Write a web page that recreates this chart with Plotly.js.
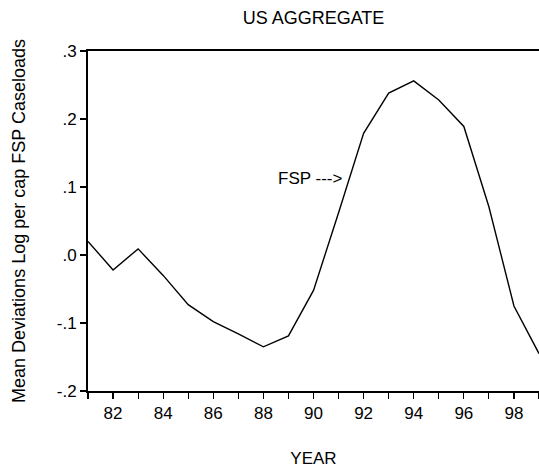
<!DOCTYPE html>
<html>
<head>
<meta charset="utf-8">
<script src="https://cdn.plot.ly/plotly-3.0.1.min.js"></script>
<style>html,body{margin:0;padding:0;background:#fff;}#chart{width:539px;height:474px;}</style>
</head>
<body>
<div id="chart"></div>
<script>
var years = [81, 82, 83, 84, 85, 86, 87, 88, 89, 90, 91, 92, 93, 94, 95, 96, 97, 98, 99];
var fsp = [0.020, -0.022, 0.009, -0.030, -0.073, -0.098, -0.116, -0.135, -0.119, -0.052, 0.062, 0.179, 0.238, 0.256, 0.228, 0.189, 0.071, -0.075, -0.145];
var xTickVals = [81, 82, 83, 84, 85, 86, 87, 88, 89, 90, 91, 92, 93, 94, 95, 96, 97, 98, 99];
var xTickText = ["", "82", "", "84", "", "86", "", "88", "", "90", "", "92", "", "94", "", "96", "", "98", ""];
var yTickVals = [-0.2, -0.1, 0.0, 0.1, 0.2, 0.3];
var yTickText = ["-.2", "-.1", ".0", ".1", ".2", ".3"];
var seriesLabel = "FSP --->";

var font = {family: "Liberation Sans, Arial, sans-serif", size: 17, color: "#000"};
var bigFont = {family: "Liberation Sans, Arial, sans-serif", size: 18, color: "#000"};

var trace = {
  x: years, y: fsp, type: "scatter", mode: "lines",
  line: {color: "#000", width: 1.4}, showlegend: false, hoverinfo: "none"
};

var layout = {
  width: 539, height: 474,
  margin: {l: 88, r: 0, t: 51, b: 83},
  paper_bgcolor: "#fff", plot_bgcolor: "#fff",
  font: font,
  title: {text: "US AGGREGATE", font: bigFont, xref: "paper", x: 0.5, xanchor: "center",
          yref: "container", y: 1 - 18/474, yanchor: "middle"},
  xaxis: {
    range: [81, 99], tickmode: "array", tickvals: xTickVals, ticktext: xTickText,
    ticks: "outside", ticklen: 6, tickwidth: 1.2, tickcolor: "#000",
    showline: true, linewidth: 2, linecolor: "#000", mirror: true,
    showgrid: false, zeroline: false, tickfont: font,
    title: {text: "YEAR", font: font, standoff: 30}
  },
  yaxis: {
    range: [-0.2, 0.3], tickmode: "array", tickvals: yTickVals, ticktext: yTickText,
    ticks: "outside", ticklen: 6, tickwidth: 1.2, tickcolor: "#000",
    showline: true, linewidth: 2, linecolor: "#000", mirror: false,
    showgrid: false, zeroline: false, tickfont: font,
    title: {text: "Mean Deviations Log per cap FSP Caseloads", font: bigFont, standoff: 26}
  },
  annotations: [{
    x: 91.2, y: 0.112, xref: "x", yref: "y", text: seriesLabel, showarrow: false,
    xanchor: "right", yanchor: "middle", font: font
  }]
};

Plotly.newPlot("chart", [trace], layout, {staticPlot: true, displayModeBar: false});
</script>
</body>
</html>
